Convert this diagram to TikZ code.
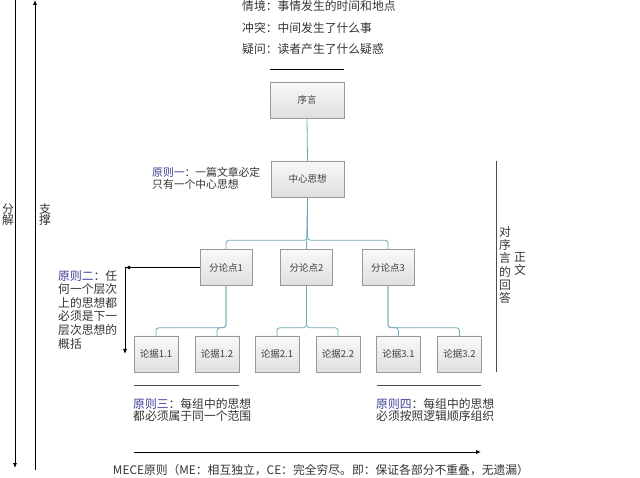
\documentclass[tikz,border=0pt]{standalone}
\usepackage{fontspec}
\setmainfont{Noto Sans CJK SC}
\usetikzlibrary{arrows.meta}
\definecolor{teal1}{RGB}{110,170,180}
\definecolor{bl}{RGB}{60,60,150}
\tikzset{
 box/.style={draw=gray!80,top color=gray!5,bottom color=gray!25,minimum height=36pt,inner sep=0pt,font=\fontsize{9.5}{11}\selectfont,text=black!75},
 conn/.style={draw=teal1,line width=0.8pt,rounded corners=3pt},
 txt/.style={font=\fontsize{11.8}{13}\selectfont,text=black!80,anchor=north west,inner sep=0pt,align=left},
 arr/.style={line width=0.8pt,-{Latex[length=5pt,width=4pt]}},
 gl/.style={draw=black!70,line width=1pt}
}
\begin{document}
\begin{tikzpicture}[x=1pt,y=-1pt]
\useasboundingbox (0,0) rectangle (640,478);
% left axes
\coordinate (l1a) at (15,0); \coordinate (l1b) at (15,468);
\draw[arr] (l1a) -- (l1b);
\coordinate (l2a) at (35,470); \coordinate (l2b) at (35,0);
\draw[arr] (l2a) -- (l2b);
\node[txt,align=center,anchor=center] (fj) at (8,215) {分\\[-2pt]解};
\node[txt,align=center,anchor=center] (zc) at (45,215) {支\\[-2pt]撑};
% top texts
\node[txt] (t1) at (242,0) {情境：事情发生的时间和地点};
\node[txt] (t2) at (242,22) {冲突：中间发生了什么事};
\node[txt] (t3) at (242,43) {疑问：读者产生了什么疑惑};
\coordinate (h1) at (270,69); \coordinate (h2) at (344,69);
\draw[black,line width=0.8pt] (h1) -- (h2);
% boxes
\node[box,minimum width=74pt] (xy) at (307,100) {序言};
\node[box,minimum width=73pt] (zx) at (307.5,179) {中心思想};
\node[box,minimum width=52pt] (f1) at (226,267.5) {分论点1};
\node[box,minimum width=52pt] (f2) at (306.5,267.5) {分论点2};
\node[box,minimum width=52pt] (f3) at (388,267.5) {分论点3};
\foreach \n/\x/\t in {a/156/论据1.1,b/217/论据1.2,c/277/论据2.1,d/338/论据2.2,e/398.5/论据3.1,f/459.5/论据3.2}
  \node[box,minimum width=44pt] (\n) at (\x,354) {\t};
% connectors
\draw[conn] (xy.south) -- (zx.north);
\draw[conn] (zx.south) -- ++(0,43) -| (f1.north);
\draw[conn] (zx.south) -- ++(0,43) -| (f3.north);
\draw[conn] (zx.south) -- (f2.north);
\foreach \p/\u/\v in {f1/a/b,f2/c/d,f3/e/f}{
  \draw[conn] (\p.south) -- ++(0,42) -| (\u.north);
  \draw[conn] (\p.south) -- ++(0,42) -| (\v.north);
}
% left arrows
\coordinate (ac) at (125,267.5); \coordinate (ad) at (125,354);
\draw[arr] (f1.west) -- (ac);
\draw[arr] (ac) -- (ad);
% principles
\node[txt,font=\fontsize{10.8}{12}\selectfont] (p1) at (152,167) {\textcolor{bl}{原则一}：一篇文章必定\\只有一个中心思想};
\node[txt,font=\fontsize{11.8}{13.6}\selectfont] (p2) at (58,270) {\textcolor{bl}{原则二}：任\\何一个层次\\上的思想都\\必须是下一\\层次思想的\\概括};
\coordinate (g1) at (134,385); \coordinate (g2) at (239,385);
\coordinate (g3) at (377,385); \coordinate (g4) at (481,385);
\draw[gl] (g1) -- (g2); \draw[gl] (g3) -- (g4);
\node[txt,font=\fontsize{11.8}{12.5}\selectfont] (p3) at (133,398) {\textcolor{bl}{原则三}：每组中的思想\\都必须属于同一个范围};
\node[txt,font=\fontsize{11.8}{12.5}\selectfont] (p4) at (376,398) {\textcolor{bl}{原则四}：每组中的思想\\必须按照逻辑顺序组织};
% bottom arrow
\coordinate (b1) at (134,452); \coordinate (b2) at (481,452);
\draw[arr] (b1) -- (b2);
\node[txt,anchor=center] (mece) at (321,470) {MECE原则（ME：相互独立，CE：完全穷尽。即：保证各部分不重叠，无遗漏）};
% right
\coordinate (r1) at (496,161); \coordinate (r2) at (496,372);
\draw[black!70,line width=0.8pt] (r1) -- (r2);
\node[txt,align=center,anchor=north,font=\fontsize{11.8}{13.3}\selectfont] (dx) at (505,226) {对\\序\\言\\的\\回\\答};
\node[txt,align=center,anchor=north,font=\fontsize{11.8}{13.3}\selectfont] (zw) at (520,252) {正\\文};
\end{tikzpicture}
\end{document}
